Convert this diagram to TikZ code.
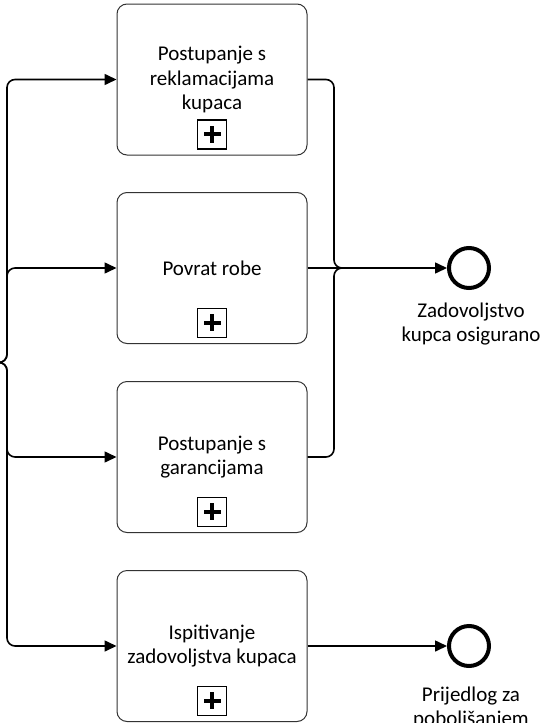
\documentclass[tikz,border=0pt]{standalone}
\usepackage{fontspec}
\setmainfont{Carlito}
\usetikzlibrary{arrows.meta}
\begin{document}
\begin{tikzpicture}[x=1pt,y=-1pt,
  task/.style={draw=black!80, line width=1pt, rounded corners=10pt, minimum width=190pt, minimum height=151pt, inner sep=0pt, align=center, font=\fontsize{21}{24.5}\selectfont},
  submarker/.style={draw=black, line width=1.5pt, minimum width=29pt, minimum height=29pt, inner sep=0pt, anchor=south,
    path picture={\fill ([xshift=-8.5pt,yshift=-2.1pt]path picture bounding box.center) rectangle ([xshift=8.5pt,yshift=2.1pt]path picture bounding box.center);
                  \fill ([xshift=-2.1pt,yshift=-8.5pt]path picture bounding box.center) rectangle ([xshift=2.1pt,yshift=8.5pt]path picture bounding box.center);}},
  endev/.style={circle, draw=black, line width=4pt, minimum size=40pt, inner sep=0pt},
  lbl/.style={align=center, anchor=north, inner sep=0pt, font=\fontsize{21}{24}\selectfont},
  flow/.style={draw=black, line width=1.6pt, rounded corners=8pt, -{Triangle[length=12pt,width=11pt]}},
  mergeline/.style={draw=black, line width=1.6pt, rounded corners=8pt}
]
\useasboundingbox (0,0) rectangle (545,723);
\clip (0,0) rectangle (545,723);

% tasks
\node[task] (t1) at (212,79.5) {Postupanje s\\reklamacijama\\kupaca};
\node[task] (t2) at (212,268) {Povrat robe};
\node[task] (t3) at (212,457) {Postupanje s\\garancijama};
\node[task] (t4) at (212,646) {Ispitivanje\\zadovoljstva kupaca};

\foreach \t in {t1,t2,t3,t4}{
  \node[submarker] (m\t) at ([yshift=6pt]\t.south) {};
}

% end events
\node[endev] (e1) at (469,268) {};
\node[endev] (e2) at (469,646) {};
\node[lbl] (l1) at (471,303) {Zadovoljstvo\\kupca osigurano};
\node[lbl] (l2) at (471,687) {Prijedlog za\\poboljšanjem};

% split on the left
\coordinate (split) at (0,362.5);
\draw[flow] (split) -- (7,362.5) -- (7,79.5) -- (t1.west);
\draw[flow] (split) -- (7,362.5) -- (7,268) -- (t2.west);
\draw[flow] (split) -- (7,362.5) -- (7,457) -- (t3.west);
\draw[flow] (split) -- (7,362.5) -- (7,646) -- (t4.west);

% merge on the right
\coordinate (merge) at (342,268);
\draw[mergeline] (t1.east) -- (334,79.5) -- (334,268) -- (merge);
\draw[mergeline] (t3.east) -- (334,457) -- (334,268) -- (merge);
\draw[flow] (t2.east) -- (e1.west);
\draw[flow] (t4.east) -- (e2.west);
\end{tikzpicture}
\end{document}
